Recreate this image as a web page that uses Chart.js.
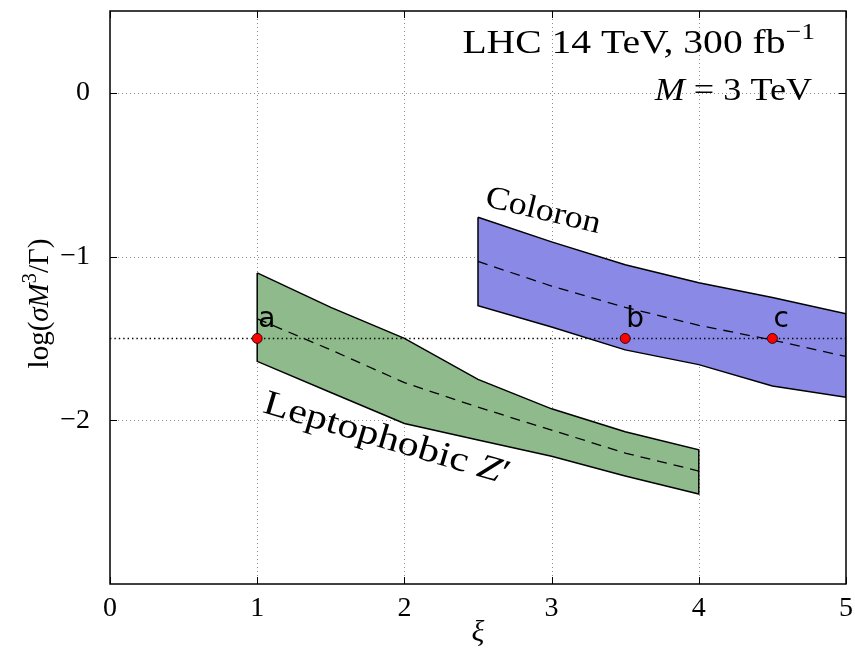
<!DOCTYPE html>
<html>
<head>
<meta charset="utf-8">
<script src="https://cdn.jsdelivr.net/npm/chart.js@4/dist/chart.umd.min.js"></script>
<style>
  html, body { margin: 0; padding: 0; background: #ffffff; }
  #wrap { width: 855px; height: 654px; }
</style>
</head>
<body>
<div id="wrap"><canvas id="chart" width="855" height="654"></canvas></div>
<script>
// Leptophobic Z' band: upper / lower edges and central (dashed) curve
const leptoXi      = [1, 1.5, 2, 2.5, 3, 3.5, 4];
const leptoUpper   = [-1.10, -1.31, -1.50, -1.75, -1.93, -2.07, -2.18];
const leptoLower   = [-1.64, -1.83, -2.02, -2.12, -2.22, -2.34, -2.45];
const leptoCentral = [-1.38, -1.57, -1.77, -1.92, -2.06, -2.20, -2.31];

// Coloron band
const coloronXi      = [2.5, 3, 3.5, 4, 4.5, 5];
const coloronUpper   = [-0.76, -0.91, -1.05, -1.16, -1.25, -1.35];
const coloronLower   = [-1.30, -1.43, -1.57, -1.66, -1.79, -1.86];
const coloronCentral = [-1.03, -1.18, -1.31, -1.42, -1.51, -1.61];

// Benchmark points and the reference level they sit on
const benchXi     = [1, 3.5, 4.5];
const benchLog    = [-1.5, -1.5, -1.5];
const benchNames  = ['a', 'b', 'c'];
const refLevel    = -1.5;

// Axis ranges and ticks
const xRange = [0, 5];
const yRange = [-3, 0.5];
const xTicks = [0, 1, 2, 3, 4, 5];
const yTicks = [-2, -1, 0];

const SERIF = '"Liberation Serif", "DejaVu Serif", serif';
const GREEN = '#8fbb8c';
const BLUE  = '#8a8ae6';

const pts = (xs, ys) => xs.map((x, i) => ({ x, y: ys[i] }));
// closed outline: upper edge left→right, lower edge right→left, back to start
const outline = (xs, up, lo) => {
  const p = pts(xs, up);
  for (let i = xs.length - 1; i >= 0; i--) p.push({ x: xs[i], y: lo[i] });
  p.push({ x: xs[0], y: up[0] });
  return p;
};
const lineBase = { pointRadius: 0, pointHoverRadius: 0, tension: 0, fill: false };

const datasets = [
  { ...lineBase, data: pts(leptoXi, leptoUpper), fill: '+1', backgroundColor: GREEN, borderWidth: 0, order: 10 },
  { ...lineBase, data: pts(leptoXi, leptoLower), borderWidth: 0, order: 10 },
  { ...lineBase, data: pts(coloronXi, coloronUpper), fill: '+1', backgroundColor: BLUE, borderWidth: 0, order: 10 },
  { ...lineBase, data: pts(coloronXi, coloronLower), borderWidth: 0, order: 10 },
  { ...lineBase, data: outline(leptoXi, leptoUpper, leptoLower), borderColor: '#000', borderWidth: 1.5, order: 6 },
  { ...lineBase, data: outline(coloronXi, coloronUpper, coloronLower), borderColor: '#000', borderWidth: 1.5, order: 6 },
  { ...lineBase, data: pts(leptoXi, leptoCentral), borderColor: '#000', borderWidth: 1.3, borderDash: [10, 7], order: 4 },
  { ...lineBase, data: pts(coloronXi, coloronCentral), borderColor: '#000', borderWidth: 1.3, borderDash: [10, 7], order: 4 },
  { ...lineBase, data: [{ x: xRange[0], y: refLevel }, { x: xRange[1], y: refLevel }],
    borderColor: '#000', borderWidth: 1.4, borderDash: [1.4, 3], order: 3 },
  { data: pts(benchXi, benchLog), showLine: false, pointRadius: 5, pointHoverRadius: 5,
    pointBackgroundColor: '#ff0000', pointBorderColor: '#000', pointBorderWidth: 0.8, order: 0 }
];

// Text made of runs (roman / italic / superscript), drawn from x on baseline y.
// sx widens the glyphs horizontally.
function font(r, size) {
  const s = r.sup ? size * 0.7 : size;
  return (r.italic ? 'italic ' : '') + s + 'px ' + SERIF;
}
function runsWidth(ctx, runs, size) {
  let w = 0;
  for (const r of runs) { ctx.font = font(r, size); w += ctx.measureText(r.t).width; }
  return w;
}
function drawRuns(ctx, runs, x, y, size, align, sx = 1) {
  const w = runsWidth(ctx, runs, size) * sx;
  const x0 = align === 'right' ? x - w : align === 'center' ? x - w / 2 : x;
  ctx.save();
  ctx.translate(x0, y);
  ctx.scale(sx, 1);
  ctx.textBaseline = 'alphabetic';
  ctx.textAlign = 'left';
  let cx = 0;
  for (const r of runs) {
    ctx.font = font(r, size);
    ctx.fillText(r.t, cx, r.sup ? -size * 0.42 : 0);
    cx += ctx.measureText(r.t).width;
  }
  ctx.restore();
}

const decor = {
  id: 'decor',
  beforeDatasetsDraw(chart) {
    const { ctx, chartArea: a, scales: { x, y } } = chart;
    ctx.save();
    ctx.strokeStyle = 'rgba(0,0,0,0.45)';
    ctx.lineWidth = 1;
    ctx.setLineDash([1, 3]);
    for (const v of xTicks) {
      const px = Math.round(x.getPixelForValue(v)) + 0.5;
      if (px <= a.left + 1 || px >= a.right - 1) continue;
      ctx.beginPath(); ctx.moveTo(px, a.top); ctx.lineTo(px, a.bottom); ctx.stroke();
    }
    for (const v of yTicks) {
      const py = Math.round(y.getPixelForValue(v)) + 0.5;
      ctx.beginPath(); ctx.moveTo(a.left, py); ctx.lineTo(a.right, py); ctx.stroke();
    }
    ctx.restore();
  },
  afterDatasetsDraw(chart) {
    const { ctx, chartArea: a, scales: { x, y } } = chart;
    ctx.save();
    ctx.strokeStyle = '#000';
    ctx.lineWidth = 1;
    const tl = 7;
    for (const v of xTicks) {
      const px = Math.round(x.getPixelForValue(v)) + 0.5;
      ctx.beginPath();
      ctx.moveTo(px, a.bottom); ctx.lineTo(px, a.bottom - tl);
      ctx.moveTo(px, a.top); ctx.lineTo(px, a.top + tl);
      ctx.stroke();
    }
    for (const v of yTicks) {
      const py = Math.round(y.getPixelForValue(v)) + 0.5;
      ctx.beginPath();
      ctx.moveTo(a.left, py); ctx.lineTo(a.left + tl, py);
      ctx.moveTo(a.right, py); ctx.lineTo(a.right - tl, py);
      ctx.stroke();
    }
    ctx.lineWidth = 1.5;
    ctx.strokeRect(a.left, a.top, a.right - a.left, a.bottom - a.top);

    // benchmark point names
    ctx.fillStyle = '#000';
    ctx.font = '28px "DejaVu Sans", sans-serif';
    ctx.textAlign = 'left';
    ctx.textBaseline = 'alphabetic';
    benchXi.forEach((v, i) => {
      ctx.fillText(benchNames[i], x.getPixelForValue(v) + 1, y.getPixelForValue(benchLog[i]) - 11);
    });

    // band labels
    ctx.save();
    ctx.translate(x.getPixelForValue(2.54), y.getPixelForValue(-0.69));
    ctx.rotate(13.5 * Math.PI / 180);
    drawRuns(ctx, [{ t: 'Coloron' }], 0, 0, 32, 'left', 1.12);
    ctx.restore();

    ctx.save();
    ctx.translate(x.getPixelForValue(1.03), y.getPixelForValue(-1.95));
    ctx.rotate(16.5 * Math.PI / 180);
    drawRuns(ctx, [{ t: 'Leptophobic ' }, { t: 'Z', italic: true }, { t: '′' }], 0, 0, 35, 'left', 1.2);
    ctx.restore();

    // collider / mass annotation
    drawRuns(ctx, [{ t: 'LHC 14 TeV, 300 fb' }, { t: '−1', sup: true }],
             x.getPixelForValue(4.79), y.getPixelForValue(0.244), 33, 'right', 1.2);
    drawRuns(ctx, [{ t: 'M', italic: true }, { t: ' = 3 TeV' }],
             x.getPixelForValue(4.77), y.getPixelForValue(-0.043), 32, 'right', 1.13);

    // axis titles
    drawRuns(ctx, [{ t: 'ξ', italic: true }], (a.left + a.right) / 2, 641, 30, 'center');
    ctx.save();
    ctx.translate(48, (a.top + a.bottom) / 2 + 6);
    ctx.rotate(-Math.PI / 2);
    drawRuns(ctx, [{ t: 'log(' }, { t: 'σM', italic: true }, { t: '3', sup: true }, { t: '/Γ)' }], 0, 0, 29, 'center');
    ctx.restore();
    ctx.restore();
  }
};

const tickFont = { family: SERIF, size: 28 };
const fmt = v => (v < 0 ? '\u2212' + Math.abs(v) : String(v));

new Chart(document.getElementById('chart'), {
  type: 'line',
  data: { datasets },
  plugins: [decor],
  options: {
    responsive: false,
    animation: false,
    devicePixelRatio: 1,
    layout: { padding: { left: 0, right: 9, top: 11, bottom: 0 } },
    plugins: { legend: { display: false }, tooltip: { enabled: false }, filler: { propagate: false } },
    scales: {
      x: {
        type: 'linear', min: xRange[0], max: xRange[1],
        afterBuildTicks: s => { s.ticks = xTicks.map(value => ({ value })); },
        afterFit: s => { s.height = 70; s.paddingLeft = 0; s.paddingRight = 0; },
        ticks: { font: tickFont, color: '#000', padding: 8, maxRotation: 0, callback: fmt },
        grid: { display: false, drawTicks: false },
        border: { display: false }
      },
      y: {
        type: 'linear', min: yRange[0], max: yRange[1],
        afterBuildTicks: s => { s.ticks = yTicks.map(value => ({ value })); },
        afterFit: s => { s.width = 110; s.paddingTop = 0; s.paddingBottom = 0; },
        ticks: { font: tickFont, color: '#000', padding: 20, callback: fmt },
        grid: { display: false, drawTicks: false },
        border: { display: false }
      }
    }
  }
});
</script>
</body>
</html>
